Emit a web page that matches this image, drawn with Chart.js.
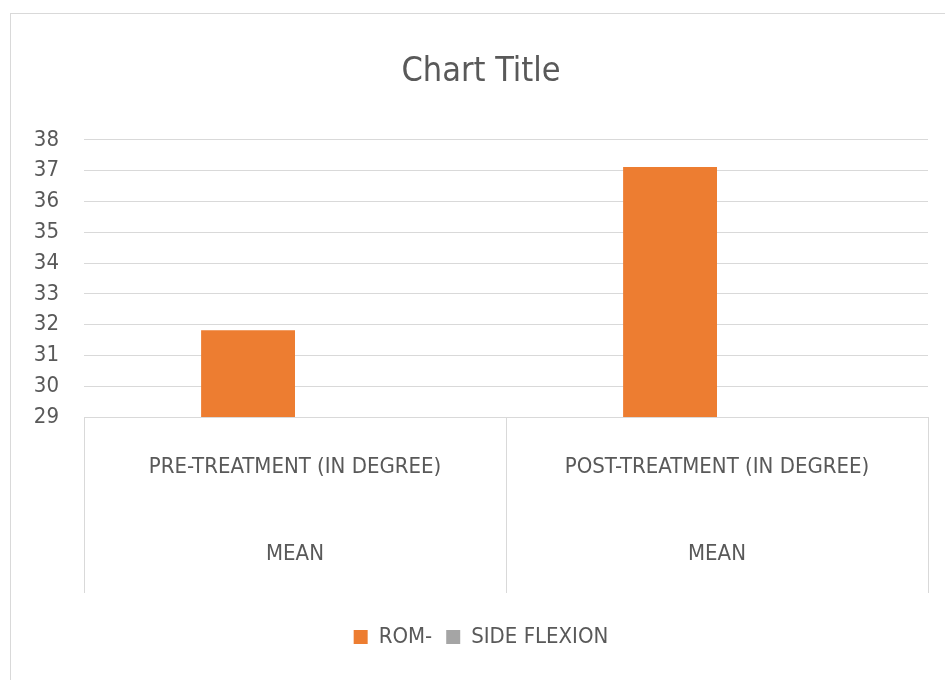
<!DOCTYPE html>
<html>
<head>
<meta charset="utf-8">
<script src="https://cdn.jsdelivr.net/npm/chart.js@4"></script>
<style>
  html, body { margin: 0; padding: 0; background: #fff; overflow: hidden; }
  #box {
    position: absolute; left: 10px; top: 13px;
    width: 940px; height: 680px;
    border: 1px solid #d9d9d9;
  }
  #chart { display: block; }
</style>
</head>
<body>
<div id="box"><canvas id="chart" width="934" height="666"></canvas></div>
<script>
const categories = [
  ['PRE-TREATMENT (IN DEGREE)', 'MEAN'],
  ['POST-TREATMENT (IN DEGREE)', 'MEAN']
];
const seriesNames = ['ROM-', 'SIDE FLEXION'];
const romValues = [31.82, 37.12];
const sideFlexionValues = [null, null];
const yMin = 29;
const yMax = 38;

const FONT = "'DejaVu Sans Condensed', 'Liberation Sans Narrow', sans-serif";
const TEXT = '#595959';

// vertical divider lines in the category label area (Excel style)
const labelDividers = {
  id: 'labelDividers',
  afterDraw(chart) {
    const x = chart.scales.x;
    const ctx = chart.ctx;
    const n = x.ticks.length;
    const xs = [x.left, x.right];
    for (let i = 0; i < n - 1; i++) {
      xs.push((x.getPixelForValue(i) + x.getPixelForValue(i + 1)) / 2);
    }
    ctx.save();
    ctx.strokeStyle = '#d9d9d9';
    ctx.lineWidth = 1;
    xs.forEach(px => {
      ctx.beginPath();
      ctx.moveTo(Math.round(px) + 0.5, x.top);
      ctx.lineTo(Math.round(px) + 0.5, x.top + 176);
      ctx.stroke();
    });
    ctx.restore();
  }
};

new Chart(document.getElementById('chart'), {
  type: 'bar',
  data: {
    labels: categories,
    datasets: [
      { label: seriesNames[0], data: romValues, backgroundColor: '#ED7D31' },
      { label: seriesNames[1], data: sideFlexionValues, backgroundColor: '#A5A5A5' }
    ]
  },
  options: {
    responsive: false,
    animation: false,
    layout: { padding: { left: 23, right: 17, top: 0, bottom: 22 } },
    datasets: { bar: { categoryPercentage: 0.445, barPercentage: 1.0 } },
    plugins: {
      title: {
        display: true,
        text: 'Chart Title',
        color: TEXT,
        font: { family: FONT, size: 34, weight: 'normal' },
        padding: { top: 38, bottom: 47 }
      },
      legend: {
        position: 'bottom',
        labels: {
          color: TEXT,
          font: { family: FONT, size: 22 },
          boxWidth: 14,
          boxHeight: 14,
          padding: 14
        }
      },
      tooltip: { enabled: false }
    },
    scales: {
      x: {
        grid: { display: false },
        border: { display: true, color: '#d9d9d9' },
        ticks: {
          color: TEXT,
          font: { family: FONT, size: 22, lineHeight: '87px' },
          padding: -1,
          maxRotation: 0,
          autoSkip: false
        },
        afterFit(scale) {
          scale.height = 195;
        }
      },
      y: {
        min: yMin,
        max: yMax,
        grid: { color: '#d9d9d9', drawTicks: false },
        border: { display: false },
        ticks: {
          stepSize: 1,
          color: TEXT,
          font: { family: FONT, size: 22 },
          padding: 25
        },
        afterFit(scale) {
          scale.width = 50;
        }
      }
    }
  },
  plugins: [labelDividers]
});
</script>
</body>
</html>
